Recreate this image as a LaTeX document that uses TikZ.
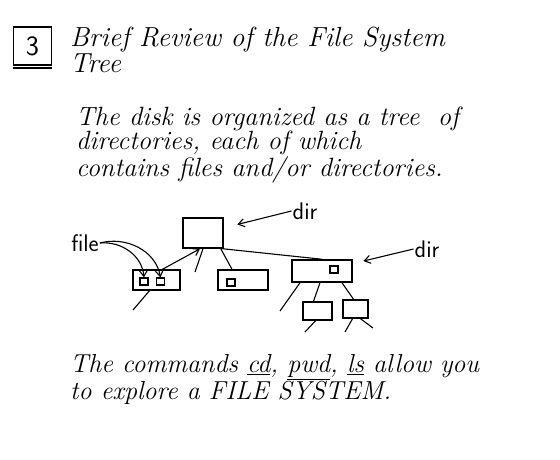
\documentclass[tikz,border=0pt]{standalone}
\usepackage{fontspec}
\setmainfont{Latin Modern Roman}
\setsansfont{Latin Modern Sans}
\usepackage{tikz}
\usetikzlibrary{arrows.meta, positioning, calc}

\tikzset{
  hand/.style={font=\itshape\fontsize{26.4}{24}\selectfont, anchor=base west, inner sep=0pt, align=left},
  title/.style={font=\itshape\fontsize{27.6}{26}\selectfont, anchor=base west, inner sep=0pt, align=left},
  label/.style={font=\sffamily\fontsize{24}{24}\selectfont, inner sep=1pt},
  dirbox/.style={draw, line width=1.5pt, inner sep=0pt},
  fileicon/.style={draw, line width=1.2pt, minimum width=8pt, minimum height=7pt, inner sep=0pt},
  link/.style={line width=1.1pt},
  pointer/.style={line width=1.1pt, -{Straight Barb[length=6pt, width=8pt]}}
}

\begin{document}
\begin{tikzpicture}[x=1pt, y=-1pt]
  \useasboundingbox (0,0) rectangle (560,460);
  % Heading (base anchor sits on the last line)
  \node[draw, line width=1.8pt, minimum width=38pt, minimum height=38pt, inner sep=0pt,
    font=\sffamily\fontsize{28}{28}\selectfont] (num) at (32.5,46) {3};
  \draw[line width=2.2pt] ([yshift=-2pt]num.south west) -- ([yshift=-2pt]num.south east);
  \node[title] (head) at (70,73) {Brief Review of the File System\\Tree};
  % Paragraph
  \node[hand] (para) at (76,176) {The disk is organized as a tree\ \ of\\directories, each of which\\contains files and/or directories.};
  % Tree of directories
  \node[dirbox, minimum width=40pt, minimum height=30pt] (topdir) at (203,233) {};
  \node[dirbox, minimum width=47pt, minimum height=20pt] (leftdir) at (156.5,280) {};
  \node[dirbox, minimum width=50pt, minimum height=20pt] (middir) at (243,280) {};
  \node[dirbox, minimum width=60pt, minimum height=22pt] (rightdir) at (322,271) {};
  \node[dirbox, minimum width=29pt, minimum height=18pt] (childa) at (317.5,311) {};
  \node[dirbox, minimum width=25pt, minimum height=18pt] (childb) at (355.5,309) {};
  % Files
  \node[fileicon] (fileA) at (144,281.5) {};
  \node[fileicon] (fileB) at (160.5,281.5) {};
  \node[fileicon] (fileC) at (231,282.5) {};
  \node[fileicon] (fileD) at (334,269.5) {};
  % Loose ends
  \coordinate (endtop) at (195,272);
  \coordinate (endleft) at (133,310);
  \coordinate (endright) at (280,311);
  \coordinate (enda) at (305,332);
  \coordinate (endb1) at (345,332);
  \coordinate (endb2) at (373,328);
  % Edges
  \draw[pointer] ([xshift=6pt]leftdir.north) -- ([xshift=-3pt]topdir.south);
  \draw[link] (topdir.south) -- (endtop);
  \draw[link] ([xshift=-3pt]topdir.south east) -- ([xshift=-11pt]middir.north);
  \draw[link] ([xshift=-1pt]topdir.south east) -- (rightdir.north);
  \draw[link] ([xshift=-7pt]leftdir.south) -- (endleft);
  \draw[link] ([xshift=-22pt]rightdir.south) -- (endright);
  \draw[link] ([xshift=-2pt]rightdir.south) -- ([xshift=-4pt]childa.north);
  \draw[link] ([xshift=20pt]rightdir.south) -- ([xshift=-2pt]childb.north);
  \draw[link] ([xshift=-2pt]childa.south) -- (enda);
  \draw[link] ([xshift=-3pt]childb.south) -- (endb1);
  \draw[link] ([xshift=5pt]childb.south) -- (endb2);
  % Labels
  \node[label] (dirA) at (305,211) {dir};
  \node[label] (dirB) at (427,249) {dir};
  \node[label] (fileL) at (85,243) {file};
  \draw[pointer, shorten >=14pt] (dirA.west) -- (topdir);
  \draw[pointer, shorten >=11pt] (dirB.west) -- (rightdir);
  \draw[pointer] (fileL.east) to[out=5, in=95] (fileA.north);
  \draw[pointer] (fileL.east) to[out=15, in=100] (fileB.north);
  % Closing remark
  \node[hand, font=\itshape\fontsize{26}{24}\selectfont] (last) at (70,399)
    {The commands \underline{cd}, \underline{pwd}, \underline{ls} allow you\\to explore a FILE SYSTEM.};
\end{tikzpicture}
\end{document}
